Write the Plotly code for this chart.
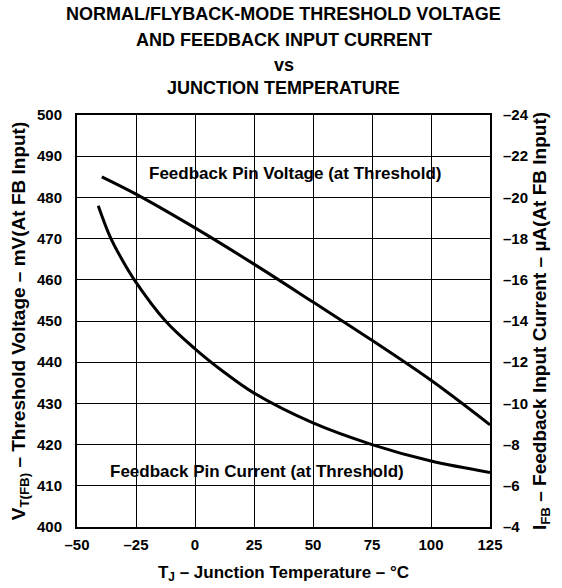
import plotly.graph_objects as go

# Feedback pin voltage (left axis, mV)
temp_v = [-39.5, -25, 0, 25, 50, 75, 100, 125]
volt_mv = [485.0, 480.8, 472.6, 463.8, 454.6, 445.3, 435.6, 424.8]

# Feedback pin current (right axis, uA)
temp_i = [-41, -36, -31, -25.7, -12.5, 0, 12.5, 25, 50, 75, 100, 125]
curr_ua = [-19.6, -18.1, -17.0, -16.0, -14.0, -12.65, -11.5, -10.5, -9.05, -8.0, -7.2, -6.65]

x_ticks = [-50, -25, 0, 25, 50, 75, 100, 125]
y_left_ticks = [400, 410, 420, 430, 440, 450, 460, 470, 480, 490, 500]
y_right_ticks = [-4, -6, -8, -10, -12, -14, -16, -18, -20, -22, -24]

title_lines = ["NORMAL/FLYBACK-MODE THRESHOLD VOLTAGE",
               "AND FEEDBACK INPUT CURRENT", "vs", "JUNCTION TEMPERATURE"]
title_y = [1.245, 1.182, 1.121, 1.066]

FONT = "Liberation Sans"


def bold(size):
    return dict(family=FONT, size=size, color="black", weight="bold")


def dash(vals):
    return [str(v).replace("-", "–") for v in vals]


fig = go.Figure()
fig.add_trace(go.Scatter(x=temp_v, y=volt_mv, mode="lines", line_shape="spline",
                         line=dict(color="black", width=3), yaxis="y"))
fig.add_trace(go.Scatter(x=temp_i, y=curr_ua, mode="lines", line_shape="spline",
                         line=dict(color="black", width=3), yaxis="y2"))

annotations = []
for txt, yy in zip(title_lines, title_y):
    annotations.append(dict(text=txt, x=0.5, y=yy, xref="paper", yref="paper",
                            xanchor="center", yanchor="middle", showarrow=False,
                            font=bold(18)))
annotations.append(dict(text="Feedback Pin Voltage (at Threshold)", x=42.4, y=485.9,
                        xref="x", yref="y", showarrow=False, font=bold(17)))
annotations.append(dict(text="Feedback Pin Current (at Threshold)", x=26.1, y=413.4,
                        xref="x", yref="y", showarrow=False, font=bold(17)))

fig.update_layout(
    width=562, height=588,
    margin=dict(l=77, r=72, t=115, b=61),
    paper_bgcolor="white", plot_bgcolor="white",
    showlegend=False,
    annotations=annotations,
    xaxis=dict(range=[-50, 125], tickvals=x_ticks, ticktext=dash(x_ticks),
               showgrid=True, gridcolor="black", gridwidth=1,
               showline=True, linecolor="black", linewidth=2, mirror=True,
               zeroline=False, ticks="", ticklabelstandoff=3, tickfont=bold(15),
               automargin=False,
               title=dict(text="T<sub>J</sub> – Junction Temperature – °C", standoff=14,
                          font=bold(17))),
    yaxis=dict(range=[400, 500], tickvals=y_left_ticks,
               showgrid=True, gridcolor="black", gridwidth=1,
               showline=True, linecolor="black", linewidth=2, mirror=True,
               zeroline=False, ticks="", ticklabelstandoff=10, tickfont=bold(15),
               automargin=False,
               title=dict(text="V<sub>T(FB)</sub> – Threshold Voltage – mV(At FB Input)", standoff=6,
                          font=bold(19))),
    yaxis2=dict(range=[-4, -24], overlaying="y", side="right", tickvals=y_right_ticks,
                ticktext=dash(y_right_ticks),
                showgrid=False, zeroline=False, showline=False, ticks="",
                ticklabelstandoff=12, tickfont=bold(15), automargin=False,
                title=dict(text="I<sub>FB</sub> – Feedback Input Current – µA(At FB Input)", standoff=0,
                           font=bold(19))),
)

fig.write_html("out.html", config={"displayModeBar": False},
               post_script="document.body.style.margin='0';")
